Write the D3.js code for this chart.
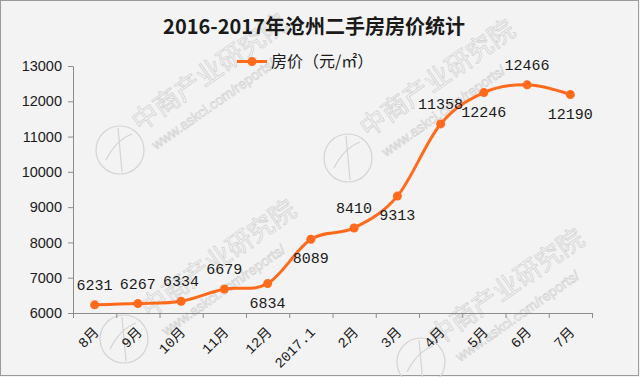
<!DOCTYPE html>
<html>
<head>
<meta charset="utf-8">
<script src="https://cdn.jsdelivr.net/npm/d3@7"></script>
<style>
  html, body { margin: 0; padding: 0; background: #f3f3f3; }
  svg { display: block; }
</style>
</head>
<body>
<div id="chart"></div>
<script>
const LINE_COLOR = "#ff6a1c";
const TEXT_COLOR = "#1a1a1a";
const AXIS_COLOR = "#8c8c8c";
const WM_STROKE = "#d4d4d4";

const months = ["8月", "9月", "10月", "11月", "12月", "2017.1", "2月", "3月", "4月", "5月", "6月", "7月"];
const prices = [6231, 6267, 6334, 6679, 6834, 8089, 8410, 9313, 11358, 12246, 12466, 12190];
const labelSide = ["up", "up", "up", "up", "down", "down", "up", "down", "up", "down", "up", "down"];
const yTicks = [6000, 7000, 8000, 9000, 10000, 11000, 12000, 13000];

let width = 640;
let height = 377;

let svg = d3.select("#chart")
            .append("svg")
            .attr("width", width)
            .attr("height", height);

// background + frame
svg.append("rect")
   .attr("x", 0.5).attr("y", 0.5)
   .attr("width", width - 2).attr("height", height - 2)
   .attr("fill", "#f3f3f3")
   .attr("stroke", "#9a9a9a");

// faint watermarks
let marks = [
  {cx: 120, cy: 150, tx: 140, ty: 132, ux: 156, uy: 150},
  {cx: 348, cy: 158, tx: 368, ty: 138, ux: 386, uy: 157},
  {cx: 124, cy: 339, tx: 149, ty: 318, ux: 166, uy: 336},
  {cx: 421, cy: 362, tx: 437, ty: 347, ux: 460, uy: 362}
];
let wm = svg.append("g").attr("class", "watermark");
marks.forEach(function (m) {
  wm.append("circle")
    .attr("cx", m.cx).attr("cy", m.cy).attr("r", 24)
    .attr("fill", "none").attr("stroke", WM_STROKE).attr("stroke-width", 1.2);
  wm.append("path")
    .attr("d", `M${m.cx - 14},${m.cy + 10} Q${m.cx - 4},${m.cy - 10} ${m.cx + 12},${m.cy - 16} M${m.cx - 2},${m.cy - 22} L${m.cx + 2},${m.cy + 22}`)
    .attr("fill", "none").attr("stroke", WM_STROKE).attr("stroke-width", 1.2);
  wm.append("text")
    .attr("transform", `translate(${m.tx},${m.ty}) rotate(-35)`)
    .attr("font-family", "Noto Sans CJK SC")
    .attr("font-size", 26)
    .attr("fill", "#f6f6f6")
    .attr("stroke", WM_STROKE)
    .attr("stroke-width", 0.8)
    .text("中商产业研究院");
  wm.append("text")
    .attr("transform", `translate(${m.ux},${m.uy}) rotate(-35)`)
    .attr("font-family", "Liberation Sans")
    .attr("font-size", 14)
    .attr("fill", "#f6f6f6")
    .attr("stroke", WM_STROKE)
    .attr("stroke-width", 0.7)
    .text("www.askci.com/reports/");
});

let x = d3.scaleBand()
          .domain(months)
          .range([73, 592])
          .padding(0);

let y = d3.scaleLinear()
          .domain([6000, 13000])
          .range([313, 66]);

// y axis
let yAxis = svg.append("g")
   .attr("transform", "translate(73,0)")
   .call(d3.axisLeft(y).tickValues(yTicks).tickSize(5).tickSizeOuter(0).tickPadding(6).tickFormat(d3.format("d")));
yAxis.select(".domain").attr("stroke", AXIS_COLOR);
yAxis.selectAll(".tick line").attr("stroke", AXIS_COLOR);
yAxis.selectAll(".tick text")
     .attr("font-family", "Liberation Sans")
     .attr("font-size", 14.5)
     .attr("fill", TEXT_COLOR);

// x axis: line, ticks between categories, rotated labels
let xAxis = svg.append("g");
xAxis.append("line")
     .attr("x1", x.range()[0]).attr("x2", x.range()[1])
     .attr("y1", y(6000) + 0.5).attr("y2", y(6000) + 0.5)
     .attr("stroke", AXIS_COLOR);
xAxis.selectAll("line.tick")
     .data(months.concat(["end"]))
     .enter()
     .append("line")
     .attr("class", "tick")
     .attr("x1", function (d, i) { return x.range()[0] + i * x.step() + 0.5; })
     .attr("x2", function (d, i) { return x.range()[0] + i * x.step() + 0.5; })
     .attr("y1", y(6000))
     .attr("y2", y(6000) + 5)
     .attr("stroke", AXIS_COLOR);
xAxis.selectAll("text")
     .data(months)
     .enter()
     .append("text")
     .attr("transform", function (d) {
       return `translate(${x(d) + x.bandwidth() / 2 + 5},${y(6000) + 20}) rotate(-45)`;
     })
     .attr("text-anchor", "end")
     .attr("font-family", "Liberation Mono, Noto Sans CJK SC")
     .attr("font-size", 14)
     .attr("fill", TEXT_COLOR)
     .text(function (d) { return d; });

// line
let line = d3.line()
             .x(function (d, i) { return x(months[i]) + x.bandwidth() / 2; })
             .y(function (d) { return y(d); })
             .curve(d3.curveCatmullRom.alpha(0));

svg.append("path")
   .datum(prices)
   .attr("d", line)
   .attr("fill", "none")
   .attr("stroke", LINE_COLOR)
   .attr("stroke-width", 3)
   .attr("stroke-linejoin", "round");

svg.append("g")
   .selectAll("circle")
   .data(prices)
   .enter()
   .append("circle")
   .attr("cx", function (d, i) { return x(months[i]) + x.bandwidth() / 2; })
   .attr("cy", function (d) { return y(d); })
   .attr("r", 4.5)
   .attr("fill", LINE_COLOR);

// value labels
svg.append("g")
   .selectAll("text")
   .data(prices)
   .enter()
   .append("text")
   .attr("x", function (d, i) { return x(months[i]) + x.bandwidth() / 2; })
   .attr("y", function (d, i) { return y(d) + (labelSide[i] === "up" ? -15 : 24); })
   .attr("text-anchor", "middle")
   .attr("font-family", "Liberation Mono")
   .attr("font-size", 15)
   .attr("fill", TEXT_COLOR)
   .text(function (d) { return d; });

// title
svg.append("text")
   .attr("x", 314)
   .attr("y", 34)
   .attr("text-anchor", "middle")
   .attr("font-family", "Noto Sans CJK SC")
   .attr("font-weight", "bold")
   .attr("font-size", 20)
   .attr("fill", TEXT_COLOR)
   .text("2016-2017年沧州二手房房价统计");

// legend
let legend = svg.append("g");
legend.append("line")
      .attr("x1", 237).attr("x2", 267)
      .attr("y1", 61.5).attr("y2", 61.5)
      .attr("stroke", LINE_COLOR)
      .attr("stroke-width", 3);
legend.append("circle")
      .attr("cx", 252).attr("cy", 61.5).attr("r", 4.5)
      .attr("fill", LINE_COLOR);
legend.append("text")
      .attr("x", 271)
      .attr("y", 61.5)
      .attr("dy", "0.35em")
      .attr("font-family", "Noto Sans CJK SC")
      .attr("font-size", 16)
      .attr("fill", TEXT_COLOR)
      .text("房价（元/㎡）");
</script>
</body>
</html>
